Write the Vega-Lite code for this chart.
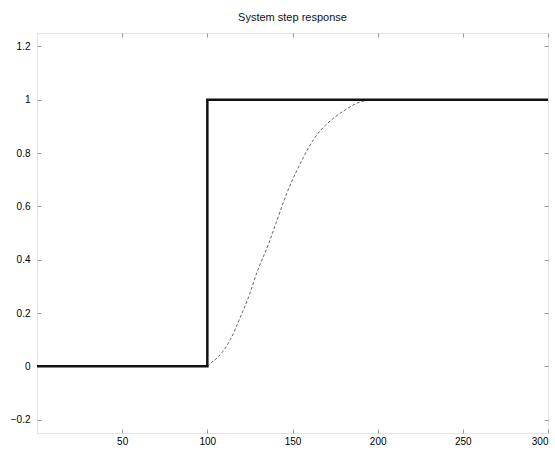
{
  "$schema": "https://vega.github.io/schema/vega-lite/v6.json",
  "autosize": {"type": "none"},
  "width": 511,
  "height": 400,
  "padding": {"left": 37, "top": 33, "right": 7, "bottom": 17},
  "background": "white",
  "title": {"text": "System step response", "fontSize": 11, "font": "Liberation Sans", "fontWeight": "normal", "color": "#111", "offset": 10, "anchor": "middle"},
  "config": {
    "view": {"stroke": "#e4e4e4", "strokeWidth": 1},
    "axis": {"grid": false, "domain": false, "tickColor": "#999", "tickSize": -4, "labelFont": "Liberation Sans", "labelFontSize": 10, "labelColor": "#000", "title": null}
  },
  "datasets": {
    "step": [
      {"i": 0, "t": 0, "y": 0},
      {"i": 1, "t": 100, "y": 0},
      {"i": 2, "t": 100, "y": 1},
      {"i": 3, "t": 300, "y": 1}
    ],
    "resp": [
      {"t": 0, "y": 0},
      {"t": 100, "y": 0},
      {"t": 101.8, "y": 0.011},
      {"t": 106.3, "y": 0.035},
      {"t": 113.5, "y": 0.1},
      {"t": 119.4, "y": 0.185},
      {"t": 124.8, "y": 0.27},
      {"t": 129, "y": 0.35},
      {"t": 136, "y": 0.46},
      {"t": 140.5, "y": 0.54},
      {"t": 146.7, "y": 0.65},
      {"t": 152.6, "y": 0.735},
      {"t": 156.5, "y": 0.785},
      {"t": 162.3, "y": 0.85},
      {"t": 168.2, "y": 0.897},
      {"t": 175, "y": 0.935},
      {"t": 182, "y": 0.966},
      {"t": 187.8, "y": 0.987},
      {"t": 195, "y": 0.998},
      {"t": 200, "y": 1},
      {"t": 300, "y": 1}
    ]
  },
  "layer": [
    {
      "data": {"name": "resp"},
      "mark": {"type": "line", "color": "#666", "strokeWidth": 1, "strokeDash": [3, 2], "interpolate": "monotone"},
      "encoding": {
        "x": {"field": "t", "type": "quantitative", "scale": {"domain": [0, 300], "nice": false}, "axis": {"orient": "bottom", "values": [50, 100, 150, 200, 250, 300], "labelPadding": 7}},
        "y": {"field": "y", "type": "quantitative", "scale": {"domain": [-0.25, 1.25], "nice": false, "zero": false}, "axis": {"orient": "left", "values": [-0.2, 0, 0.2, 0.4, 0.6, 0.8, 1, 1.2], "format": "~g", "labelPadding": 11}}
      }
    },
    {
      "data": {"name": "step"},
      "mark": {"type": "line", "color": "#111", "strokeWidth": 2.5},
      "encoding": {
        "x": {"field": "t", "type": "quantitative", "axis": {"orient": "top", "values": [50, 100, 150, 200, 250, 300], "labels": false}},
        "y": {"field": "y", "type": "quantitative", "axis": {"orient": "right", "values": [-0.2, 0, 0.2, 0.4, 0.6, 0.8, 1, 1.2], "labels": false}},
        "order": {"field": "i", "type": "quantitative"}
      }
    }
  ],
  "resolve": {"axis": {"x": "independent", "y": "independent"}}
}
